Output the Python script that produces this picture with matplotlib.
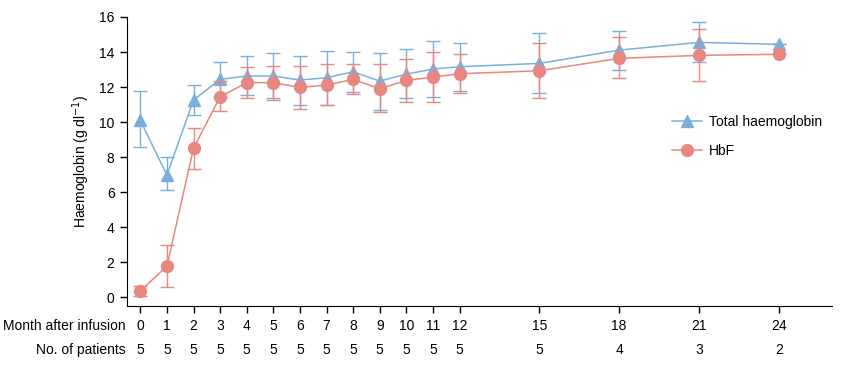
import matplotlib
matplotlib.use("Agg")
import matplotlib.pyplot as plt
from matplotlib.lines import Line2D
import numpy as np

plt.rcParams['font.family'] = ['Liberation Sans', 'DejaVu Sans']

months = [0, 1, 2, 3, 4, 5, 6, 7, 8, 9, 10, 11, 12, 15, 18, 21, 24]
patients = [5, 5, 5, 5, 5, 5, 5, 5, 5, 5, 5, 5, 5, 5, 4, 3, 2]

total_hb = [10.1, 6.97, 11.26, 12.44, 12.63, 12.63, 12.4, 12.53, 12.87, 12.34, 12.74, 13.03, 13.16, 13.35, 14.11, 14.55, 14.44]
total_hi = [11.8, 7.98, 12.13, 13.45, 13.79, 13.92, 13.79, 14.07, 14.02, 13.96, 14.15, 14.65, 14.49, 15.1, 15.22, 15.73, 14.44]
total_lo = [8.55, 6.1, 10.38, 11.43, 11.56, 11.39, 10.99, 10.97, 11.71, 10.67, 11.35, 11.41, 11.79, 11.64, 13.0, 13.41, 14.44]

hbf = [0.36, 1.77, 8.5, 11.45, 12.25, 12.25, 11.98, 12.11, 12.44, 11.9, 12.38, 12.57, 12.76, 12.93, 13.64, 13.81, 13.87]
hbf_hi = [0.65, 2.99, 9.64, 12.36, 13.14, 13.22, 13.22, 13.3, 13.3, 13.3, 13.58, 14.02, 13.89, 14.49, 14.84, 15.3, 13.87]
hbf_lo = [0.06, 0.57, 7.35, 10.61, 11.35, 11.24, 10.72, 10.95, 11.58, 10.55, 11.14, 11.12, 11.64, 11.35, 12.5, 12.34, 13.87]

blue = '#7bafda'
red = '#e8867f'
fs = 10

fig = plt.figure(figsize=(8.57, 3.69), dpi=100)
ax = fig.add_axes([127/857, 1 - 306/369, (832-127)/857, (306-17)/369])

def err(v, lo, hi):
    v = np.array(v); lo = np.array(lo); hi = np.array(hi)
    return np.vstack([v - lo, hi - v])

ax.errorbar(months, total_hb, yerr=err(total_hb, total_lo, total_hi), color=blue,
            marker='^', markersize=9, linewidth=1.1, elinewidth=1.0, capsize=5,
            capthick=1.0, zorder=2)
ax.errorbar(months, hbf, yerr=err(hbf, hbf_lo, hbf_hi), color=red,
            marker='o', markersize=8.5, linewidth=1.1, elinewidth=1.0, capsize=5,
            capthick=1.0, zorder=3)

ax.set_xlim(-0.5, 26)
ax.set_ylim(-0.5, 16)
ax.set_yticks(range(0, 17, 2))
ax.set_xticks(months)
ax.set_xticklabels([str(m) for m in months])
ax.spines['top'].set_visible(False)
ax.spines['right'].set_visible(False)
ax.tick_params(direction='out', length=5, width=1, labelsize=fs, pad=4)
ax.set_ylabel('Haemoglobin (g dl$^{-1}$)', fontsize=fs, labelpad=5)

for m, p in zip(months, patients):
    ax.text(m, -0.5 - 44/17.5, str(p), ha='center', va='center', fontsize=fs,
            clip_on=False)
ax.annotate('Month after infusion', xy=(-0.5, -0.5 - 20/17.5), xytext=(-1, 0),
            textcoords='offset points', ha='right', va='center', fontsize=fs,
            annotation_clip=False)
ax.annotate('No. of patients', xy=(-0.5, -0.5 - 44/17.5), xytext=(-1, 0),
            textcoords='offset points', ha='right', va='center', fontsize=fs,
            annotation_clip=False)

handles = [Line2D([], [], color=blue, marker='^', markersize=9, linewidth=1.1),
           Line2D([], [], color=red, marker='o', markersize=8.5, linewidth=1.1)]
ax.legend(handles, ['Total haemoglobin', 'HbF'], loc='upper left',
          bbox_to_anchor=(0.755, 0.705), frameon=False, fontsize=fs,
          handlelength=2.2, labelspacing=1.1, handletextpad=0.5)

fig.savefig('out.png', dpi=100)
